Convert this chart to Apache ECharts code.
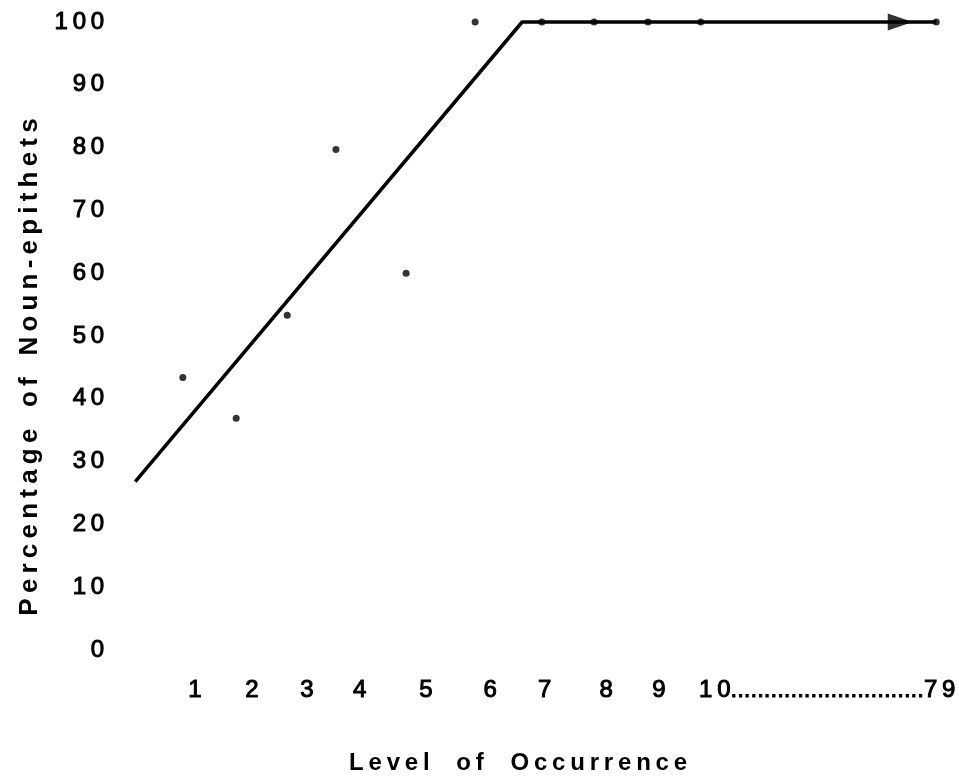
<!DOCTYPE html>
<html>
<head>
<meta charset="utf-8">
<script src="https://cdn.jsdelivr.net/npm/echarts@6/dist/echarts.min.js"></script>
<style>
  html, body { margin: 0; padding: 0; background: #fff; }
  #chart { width: 959px; height: 780px; }
</style>
</head>
<body>
<div id="chart"></div>
<script>
// tick labels on the (broken) level axis, and where they sit on it
const levelLabels = ["1", "2", "3", "4", "5", "6", "7", "8", "9", "10......79"];
const levelPos = [1, 1.98, 2.93, 3.84, 4.98, 6.09, 7.03, 8.09, 9.0, 11.9];
const yTicks = [0, 10, 20, 30, 40, 50, 60, 70, 80, 90, 100];

// observed points (x on display scale, level 79 drawn at the far end)
const pointX = [0.79, 1.71, 2.59, 3.43, 4.64, 5.83, 6.98, 7.88, 8.81, 9.72, 13.78];
const pointY = [43.4, 36.9, 53.3, 79.7, 60.0, 100, 100, 100, 100, 100, 100];

// fitted trend line and its arrow head
const trendX = [-0.03, 6.64, 13.78];
const trendY = [26.8, 100, 100];
const arrowX = [13.16];
const arrowY = [100];

// widen text the way the original typesetting does
function spaceOut(str, letterSep, wordSep) {
  return str.split(" ").map(w => w.split("").join(letterSep)).join(wordSep);
}

function tickText(s) {
  if (s.indexOf("......") >= 0) {
    return "1\u20090" + ".".repeat(29) + "7\u20099";
  }
  return s.split("").join("\u2009");
}

const chart = echarts.init(document.getElementById("chart"));

const labelStyle = {
  fontFamily: "Liberation Sans",
  fontSize: 24,
  color: "#000",
  textBorderColor: "#000",
  textBorderWidth: 1
};

const option = {
  animation: false,
  backgroundColor: "#fff",
  grid: { left: 131.2, right: 10, top: 22, bottom: 123 },
  xAxis: {
    type: "value",
    min: -0.1,
    max: 14,
    name: spaceOut("Level of Occurrence", "\u2009", "    "),
    nameLocation: "middle",
    nameGap: 101,
    nameTextStyle: {
      fontFamily: "Liberation Sans",
      fontWeight: "bold",
      fontSize: 24,
      color: "#000",
      padding: [0, 44, 0, 0]
    },
    axisLine: { show: false },
    axisTick: { show: false },
    splitLine: { show: false },
    axisLabel: Object.assign({
      customValues: levelPos,
      margin: 28,
      formatter: function (v) {
        let best = 0;
        levelPos.forEach((p, i) => {
          if (Math.abs(p - v) < Math.abs(levelPos[best] - v)) best = i;
        });
        return tickText(levelLabels[best]);
      }
    }, labelStyle)
  },
  yAxis: {
    type: "value",
    min: 0,
    max: 100,
    interval: 10,
    name: spaceOut("Percentage of Noun-epithets", "\u2009", "   "),
    nameLocation: "middle",
    nameGap: 86,
    nameTextStyle: {
      fontFamily: "Liberation Sans",
      fontWeight: "bold",
      fontSize: 26,
      color: "#000",
      padding: [0, 62, 0, 0]
    },
    axisLine: { show: false },
    axisTick: { show: false },
    splitLine: { show: false },
    axisLabel: Object.assign({
      customValues: yTicks,
      margin: 27,
      formatter: v => String(v).split("").join("\u2009")
    }, labelStyle)
  },
  series: [
    {
      type: "line",
      data: trendX.map((x, i) => [x, trendY[i]]),
      symbol: "none",
      clip: false,
      lineStyle: { color: "#000", width: 3.5 },
      z: 2
    },
    {
      type: "scatter",
      data: arrowX.map((x, i) => [x, arrowY[i]]),
      symbol: "triangle",
      symbolSize: [17, 25],
      symbolRotate: -90,
      itemStyle: { color: "#000" },
      z: 3
    },
    {
      type: "scatter",
      data: pointX.map((x, i) => [x, pointY[i]]),
      symbolSize: 7,
      itemStyle: { color: "#000" },
      z: 4
    }
  ]
};

chart.setOption(option);
</script>
</body>
</html>
